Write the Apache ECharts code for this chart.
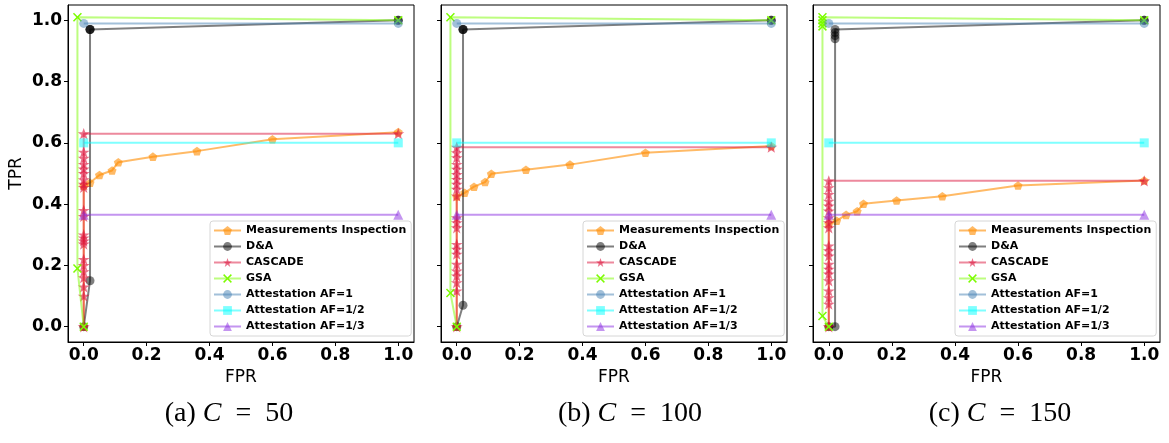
<!DOCTYPE html>
<html>
<head>
<meta charset="utf-8">
<script src="https://cdn.jsdelivr.net/npm/echarts@6/dist/echarts.min.js"></script>
<style>
  html, body { margin: 0; padding: 0; background: #fff; }
  #chart { width: 1169px; height: 443px; }
</style>
</head>
<body>
<div id="chart"></div>
<script>
// series names, in plotting order
const methods = ['Measurements Inspection', 'D&A', 'CASCADE', 'GSA', 'Attestation AF=1', 'Attestation AF=1/2', 'Attestation AF=1/3']
const captions = ['(a) {i|C}  =  50', '(b) {i|C}  =  100', '(c) {i|C}  =  150']
const xTicks = [0, 0.2, 0.4, 0.6, 0.8, 1.0]
const yTicks = [0, 0.2, 0.4, 0.6, 0.8, 1.0]

// (FPR, TPR) points, C = 50
const measurementsC50 = [[0, 0], [0, 0.46], [0.02, 0.47], [0.05, 0.495], [0.09, 0.51], [0.11, 0.537], [0.22, 0.555], [0.36, 0.573], [0.6, 0.612], [1.0, 0.635]]
const daC50 = [[0, 0], [0.02, 0.15], [0.02, 0.97], [0.02, 0.97], [0.02, 0.97], [1.0, 1.0], [1.0, 1.0]]
const cascadeC50 = [[0, 0], [0, 0.1], [0, 0.13], [0, 0.16], [0, 0.18], [0, 0.2], [0, 0.22], [0, 0.27], [0, 0.28], [0, 0.29], [0, 0.3], [0, 0.36], [0, 0.38], [0, 0.455], [0, 0.465], [0, 0.48], [0, 0.5], [0, 0.515], [0, 0.53], [0, 0.55], [0, 0.57], [0, 0.63], [1.0, 0.63]]
const gsaC50 = [[0, 0], [-0.02, 0.19], [-0.02, 1.01], [1.0, 1.0]]

// C = 100
const measurementsC100 = [[0, 0], [0, 0.425], [0.025, 0.437], [0.055, 0.457], [0.09, 0.472], [0.11, 0.499], [0.22, 0.512], [0.36, 0.529], [0.6, 0.568], [1.0, 0.59]]
const daC100 = [[0, 0], [0.02, 0.07], [0.02, 0.97], [0.02, 0.97], [0.02, 0.97], [1.0, 1.0], [1.0, 1.0]]
const cascadeC100 = [[0, 0], [0, 0.117], [0, 0.144], [0, 0.166], [0, 0.182], [0, 0.204], [0, 0.237], [0, 0.253], [0, 0.269], [0, 0.323], [0, 0.34], [0, 0.356], [0, 0.427], [0, 0.449], [0, 0.465], [0, 0.481], [0, 0.497], [0, 0.514], [0, 0.53], [0, 0.552], [0, 0.568], [0, 0.586], [1.0, 0.586]]
const gsaC100 = [[0, 0], [-0.02, 0.11], [-0.02, 1.01], [1.0, 1.0]]

// C = 150
const measurementsC150 = [[0, 0], [0, 0.335], [0.025, 0.346], [0.055, 0.365], [0.09, 0.377], [0.11, 0.401], [0.215, 0.412], [0.36, 0.426], [0.6, 0.461], [1.0, 0.477]]
const daC150 = [[0, 0], [0.02, 0], [0.02, 0.94], [0.02, 0.95], [0.02, 0.96], [0.02, 0.97], [1.0, 1.0], [1.0, 1.0]]
const cascadeC150 = [[0, 0], [0, 0.074], [0, 0.095], [0, 0.117], [0, 0.15], [0, 0.172], [0, 0.188], [0, 0.204], [0, 0.231], [0, 0.248], [0, 0.264], [0, 0.323], [0, 0.34], [0, 0.356], [0, 0.378], [0, 0.394], [0, 0.41], [0, 0.432], [0, 0.454], [0, 0.476], [1.0, 0.476]]
const gsaC150 = [[0, 0], [-0.02, 0.035], [-0.02, 0.98], [-0.02, 0.99], [-0.02, 1.0], [-0.02, 1.01], [1.0, 1.0]]

// attestation is the same for every C
const attestation1 = [[0, 0.99], [1.0, 0.99]]
const attestation2 = [[0, 0.6], [1.0, 0.6]]
const attestation3 = [[0, 0.365], [1.0, 0.365]]

const panelData = [
  [measurementsC50, daC50, cascadeC50, gsaC50, attestation1, attestation2, attestation3],
  [measurementsC100, daC100, cascadeC100, gsaC100, attestation1, attestation2, attestation3],
  [measurementsC150, daC150, cascadeC150, gsaC150, attestation1, attestation2, attestation3]
]

// marker shapes that echarts does not ship
const STAR = 'path://M50,0 L63,36 L100,36 L70,58 L81,95 L50,73 L19,95 L30,58 L0,36 L37,36 Z'
const PENTAGON = 'path://M50,0 L97.6,34.5 L79.4,90.5 L20.6,90.5 L2.4,34.5 Z'
const CROSS = 'path://M0,12 L12,0 L50,38 L88,0 L100,12 L62,50 L100,88 L88,100 L50,62 L12,100 L0,88 L38,50 Z'

const styles = [
  { color: '#ff8c00', symbol: PENTAGON, size: 9, lineOpacity: 0.6, markOpacity: 0.6 },
  { color: '#000000', symbol: 'circle', size: 9, lineOpacity: 0.5, markOpacity: 0.5 },
  { color: '#dc143c', symbol: STAR, size: 12, lineOpacity: 0.5, markOpacity: 0.6 },
  { color: '#7cfc00', symbol: CROSS, size: 9, lineOpacity: 0.5, markOpacity: 1 },
  { color: '#4682b4', symbol: 'circle', size: 9, lineOpacity: 0.5, markOpacity: 0.5 },
  { color: '#00ffff', symbol: 'rect', size: 9, lineOpacity: 0.5, markOpacity: 0.5 },
  { color: '#8a2be2', symbol: 'triangle', size: 10, lineOpacity: 0.5, markOpacity: 0.5 }
]

const gridLeft = [68, 441, 813]
const gridWidth = [346, 346, 347]
const captionX = [224, 625, 995]

const chart = echarts.init(document.getElementById('chart'), null, { renderer: 'canvas' })

const grid = gridLeft.map((l, i) => ({
  left: l, top: 5, width: gridWidth[i], height: 337,
  show: true, borderColor: '#000', borderWidth: 1, backgroundColor: 'transparent'
}))

const tickFont = { fontFamily: 'DejaVu Sans', fontWeight: 'bold', fontSize: 17, color: '#000' }

const xAxis = gridLeft.map((l, i) => ({
  type: 'value', gridIndex: i, min: -0.05, max: 1.05,
  name: 'FPR', nameLocation: 'middle', nameGap: 24,
  nameTextStyle: { fontFamily: 'DejaVu Sans', fontSize: 17, color: '#000' },
  axisLine: { show: true, onZero: false, lineStyle: { color: '#000', width: 1 } },
  axisTick: { show: true, customValues: xTicks, length: 4, lineStyle: { color: '#000' } },
  axisLabel: { customValues: xTicks, margin: 5, formatter: v => v.toFixed(1), ...tickFont },
  splitLine: { show: false }
}))

const yAxis = gridLeft.map((l, i) => ({
  type: 'value', gridIndex: i, min: -0.05, max: 1.05,
  name: i === 0 ? 'TPR' : '', nameLocation: 'middle', nameGap: 43,
  nameTextStyle: { fontFamily: 'DejaVu Sans', fontSize: 17, color: '#000' },
  axisLine: { show: true, onZero: false, lineStyle: { color: '#000', width: 1 } },
  axisTick: { show: true, customValues: yTicks, length: 4, lineStyle: { color: '#000' } },
  axisLabel: { show: i === 0, customValues: yTicks, margin: 6, formatter: v => v.toFixed(1), ...tickFont },
  splitLine: { show: false }
}))

const legend = gridLeft.map(l => ({
  data: methods, orient: 'vertical', left: l + 142, top: 221,
  itemWidth: 27, itemHeight: 11, itemGap: 5, padding: [4, 5, 4, 3],
  backgroundColor: 'rgba(255,255,255,0.8)', borderColor: '#d6d6d6', borderWidth: 1, borderRadius: 3,
  textStyle: { fontFamily: 'DejaVu Sans', fontWeight: 'bold', fontSize: 11, lineHeight: 11, color: '#000' }
}))

const series = []
panelData.forEach((lines, p) => {
  lines.forEach((pts, m) => {
    const s = styles[m]
    series.push({
      name: methods[m], type: 'line', xAxisIndex: p, yAxisIndex: p,
      data: pts, symbol: s.symbol, symbolSize: s.size, symbolKeepAspect: true, showAllSymbol: true,
      lineStyle: { color: s.color, width: 2, opacity: s.lineOpacity },
      itemStyle: { color: s.color, opacity: s.markOpacity },
      emphasis: { disabled: true }, z: 2 + m * 0.1
    })
  })
})

const title = captions.map((t, i) => ({
  text: t, left: captionX[i], top: 395, textAlign: 'center',
  textStyle: {
    fontFamily: 'Liberation Serif', fontSize: 28, fontWeight: 'normal', color: '#000',
    rich: { i: { fontFamily: 'Liberation Serif', fontSize: 28, fontStyle: 'italic', color: '#000' } }
  }
}))

chart.setOption({
  animation: false,
  title, grid, xAxis, yAxis, legend, series,
  tooltip: { show: false }
})
</script>
</body>
</html>
